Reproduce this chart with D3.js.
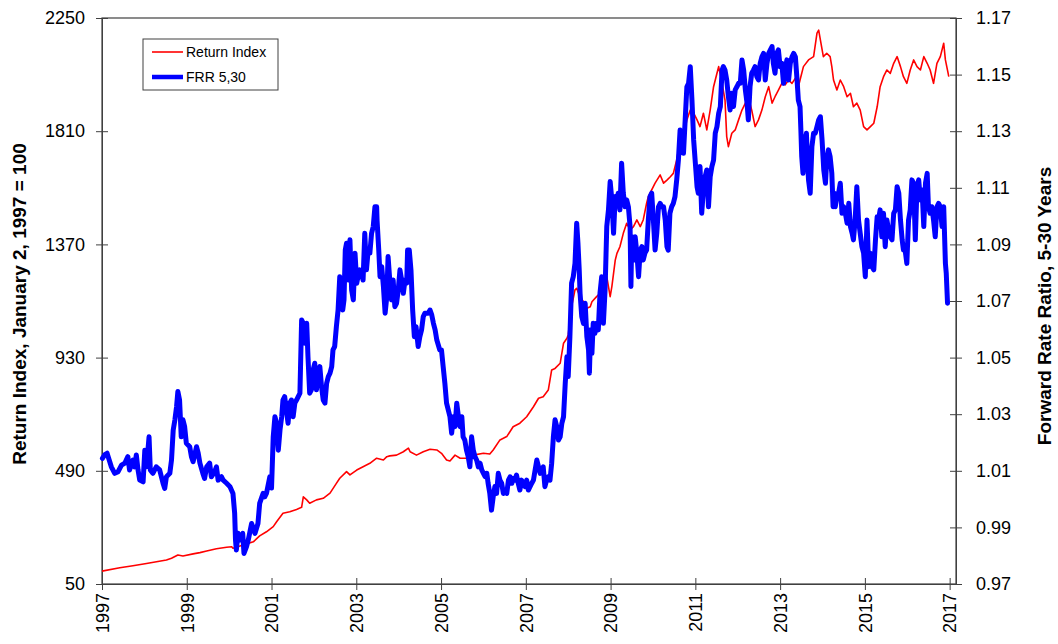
<!DOCTYPE html>
<html>
<head>
<meta charset="utf-8">
<script src="https://cdn.jsdelivr.net/npm/d3@7"></script>
<style>
  html, body { margin: 0; padding: 0; background: #fff; }
  svg { display: block; font-family: "Liberation Sans", Arial, sans-serif; }
</style>
</head>
<body>
<svg id="chart" width="1058" height="644"></svg>
<script>
// Return index, January 2, 1997 = 100 (decimal year, index level)
const returnIndex = [
  [1997.00,100],[1997.42,113],[1997.73,121],[1998.05,130],[1998.52,143],[1998.64,150],[1998.79,163],[1998.91,159],
  [1999.15,167],[1999.31,172],[1999.47,178],[1999.70,187],[1999.94,193],[2000.06,195],[2000.09,189],[2000.17,193],
  [2000.41,206],[2000.57,214],[2000.72,237],[2000.88,253],[2001.04,273],[2001.12,292],[2001.27,325],[2001.43,331],
  [2001.59,340],[2001.71,348],[2001.75,389],[2001.83,377],[2001.90,364],[2002.06,377],[2002.22,383],[2002.38,403],
  [2002.53,441],[2002.61,461],[2002.77,487],[2002.85,474],[2003.01,493],[2003.16,506],[2003.32,519],[2003.48,539],
  [2003.64,532],[2003.72,545],[2003.79,548],[2003.95,551],[2004.11,564],[2004.23,578],[2004.27,564],[2004.42,551],
  [2004.58,564],[2004.74,574],[2004.90,571],[2005.01,558],[2005.13,532],[2005.21,528],[2005.33,551],[2005.45,539],
  [2005.60,539],[2005.76,551],[2006.00,558],[2006.15,555],[2006.23,571],[2006.39,610],[2006.55,623],[2006.70,661],
  [2006.86,675],[2007.02,700],[2007.18,739],[2007.30,772],[2007.41,778],[2007.53,804],[2007.61,882],[2007.69,888],
  [2007.81,908],[2007.89,986],[2007.97,1005],[2008.00,1018],[2008.08,1128],[2008.16,1193],[2008.20,1199],[2008.28,1167],
  [2008.36,1147],[2008.44,1122],[2008.52,1128],[2008.56,1147],[2008.67,1167],[2008.75,1180],[2008.83,1219],[2008.91,1245],
  [2008.95,1206],[2008.99,1167],[2009.03,1206],[2009.11,1309],[2009.15,1335],[2009.22,1361],[2009.30,1413],[2009.38,1452],
  [2009.46,1426],[2009.54,1439],[2009.62,1465],[2009.70,1439],[2009.77,1465],[2009.85,1530],[2009.89,1555],[2009.97,1582],
  [2010.05,1608],[2010.17,1640],[2010.25,1608],[2010.33,1620],[2010.41,1633],[2010.48,1646],[2010.56,1698],[2010.64,1776],
  [2010.72,1789],[2010.80,1854],[2010.88,1892],[2010.96,1880],[2011.04,1854],[2011.11,1828],[2011.19,1880],[2011.27,1815],
  [2011.35,1892],[2011.43,1983],[2011.51,2035],[2011.55,2061],[2011.63,1996],[2011.70,1931],[2011.74,1789],[2011.78,1750],
  [2011.86,1802],[2011.94,1815],[2012.02,1854],[2012.10,1892],[2012.18,1919],[2012.25,1944],[2012.33,1892],[2012.41,1828],
  [2012.49,1854],[2012.57,1892],[2012.65,1944],[2012.73,1983],[2012.81,1919],[2012.88,1944],[2012.96,1970],[2013.04,1996],
  [2013.12,1990],[2013.20,2009],[2013.28,1996],[2013.36,2016],[2013.43,1983],[2013.47,2009],[2013.55,2061],[2013.67,2087],
  [2013.79,2100],[2013.87,2191],[2013.91,2203],[2013.95,2165],[2014.02,2100],[2014.10,2113],[2014.18,2100],[2014.22,2061],
  [2014.26,2009],[2014.34,1970],[2014.42,2009],[2014.50,1983],[2014.58,1944],[2014.66,1957],[2014.73,1905],[2014.81,1919],
  [2014.89,1892],[2014.97,1828],[2015.05,1815],[2015.13,1828],[2015.21,1841],[2015.29,1905],[2015.36,1983],[2015.44,2022],
  [2015.52,2048],[2015.60,2035],[2015.68,2074],[2015.76,2100],[2015.84,2061],[2015.91,2022],[2015.99,1996],[2016.07,2048],
  [2016.15,2087],[2016.23,2061],[2016.31,2048],[2016.39,2100],[2016.47,2074],[2016.54,2048],[2016.62,1996],[2016.70,2074],
  [2016.78,2100],[2016.86,2152],[2016.90,2087],[2016.98,2022]
];

// Forward rate ratio, 5-30 years (decimal year, ratio)
const forwardRateRatio = [
  [1997.01,1.0144],[1997.06,1.0156],[1997.12,1.0162],[1997.17,1.0138],[1997.22,1.0114],[1997.30,1.0091],[1997.38,1.0097],[1997.46,1.0120],
  [1997.54,1.0127],[1997.61,1.0150],[1997.65,1.0103],[1997.69,1.0120],[1997.73,1.0138],[1997.77,1.0114],[1997.81,1.0156],[1997.85,1.0103],
  [1997.89,1.0067],[1997.97,1.0061],[1998.01,1.0173],[1998.05,1.0114],[1998.11,1.0220],[1998.14,1.0103],[1998.20,1.0091],[1998.28,1.0114],
  [1998.36,1.0103],[1998.44,1.0056],[1998.48,1.0038],[1998.52,1.0079],[1998.60,1.0091],[1998.64,1.0138],[1998.68,1.0244],[1998.72,1.0280],
  [1998.76,1.0327],[1998.79,1.0380],[1998.83,1.0350],[1998.87,1.0220],[1998.91,1.0280],[1998.95,1.0256],[1998.99,1.0197],[1999.07,1.0185],
  [1999.11,1.0150],[1999.15,1.0132],[1999.23,1.0185],[1999.27,1.0162],[1999.31,1.0127],[1999.38,1.0091],[1999.42,1.0073],[1999.47,1.0114],
  [1999.54,1.0127],[1999.58,1.0079],[1999.66,1.0097],[1999.70,1.0114],[1999.74,1.0067],[1999.82,1.0079],[1999.86,1.0067],[1999.94,1.0056],
  [2000.02,1.0044],[2000.09,1.0020],[2000.13,0.9950],[2000.15,0.9855],[2000.17,0.9820],[2000.21,0.9879],[2000.25,0.9855],[2000.32,0.9879],
  [2000.35,0.9808],[2000.41,0.9832],[2000.45,0.9855],[2000.53,0.9914],[2000.61,0.9879],[2000.68,0.9914],[2000.72,0.9985],[2000.80,1.0020],
  [2000.84,1.0008],[2000.88,1.0020],[2000.96,1.0079],[2001.00,1.0039],[2001.04,1.0220],[2001.08,1.0291],[2001.12,1.0268],[2001.16,1.0173],
  [2001.20,1.0244],[2001.24,1.0291],[2001.27,1.0350],[2001.31,1.0362],[2001.35,1.0315],[2001.39,1.0268],[2001.43,1.0339],[2001.47,1.0350],
  [2001.51,1.0291],[2001.55,1.0339],[2001.59,1.0350],[2001.63,1.0362],[2001.67,1.0374],[2001.71,1.0633],[2001.75,1.0621],[2001.79,1.0551],
  [2001.83,1.0621],[2001.86,1.0503],[2001.90,1.0374],[2001.94,1.0386],[2001.98,1.0456],[2002.02,1.0480],[2002.06,1.0386],[2002.10,1.0456],
  [2002.14,1.0468],[2002.18,1.0397],[2002.22,1.0350],[2002.26,1.0339],[2002.30,1.0409],[2002.34,1.0433],[2002.38,1.0445],[2002.42,1.0468],
  [2002.45,1.0527],[2002.49,1.0539],[2002.53,1.0609],[2002.57,1.0668],[2002.61,1.0786],[2002.65,1.0751],[2002.68,1.0668],[2002.71,1.0704],
  [2002.74,1.0880],[2002.77,1.0904],[2002.81,1.0774],[2002.85,1.0916],[2002.89,1.0739],[2002.93,1.0704],[2002.97,1.0869],[2003.01,1.0763],
  [2003.04,1.0786],[2003.08,1.0810],[2003.12,1.0798],[2003.16,1.0774],[2003.20,1.0939],[2003.24,1.0810],[2003.28,1.0880],[2003.32,1.0869],
  [2003.36,1.0939],[2003.40,1.0963],[2003.44,1.1033],[2003.48,1.1033],[2003.49,1.0986],[2003.53,1.0880],[2003.56,1.0786],[2003.60,1.0821],
  [2003.64,1.0751],[2003.68,1.0657],[2003.72,1.0715],[2003.75,1.0857],[2003.79,1.0774],[2003.83,1.0704],[2003.87,1.0774],[2003.91,1.0680],
  [2003.95,1.0692],[2003.99,1.0739],[2004.03,1.0810],[2004.07,1.0774],[2004.11,1.0727],[2004.15,1.0774],[2004.19,1.0763],[2004.21,1.0880],
  [2004.25,1.0880],[2004.29,1.0810],[2004.33,1.0668],[2004.37,1.0574],[2004.41,1.0609],[2004.46,1.0539],[2004.50,1.0574],[2004.54,1.0598],
  [2004.58,1.0645],[2004.62,1.0657],[2004.66,1.0657],[2004.70,1.0657],[2004.74,1.0668],[2004.78,1.0651],[2004.82,1.0621],[2004.86,1.0598],
  [2004.90,1.0562],[2004.97,1.0527],[2005.01,1.0527],[2005.05,1.0468],[2005.09,1.0409],[2005.13,1.0339],[2005.17,1.0315],[2005.21,1.0291],
  [2005.25,1.0233],[2005.29,1.0291],[2005.33,1.0256],[2005.37,1.0339],[2005.41,1.0291],[2005.45,1.0256],[2005.49,1.0291],[2005.52,1.0220],
  [2005.56,1.0209],[2005.60,1.0173],[2005.64,1.0150],[2005.68,1.0114],[2005.72,1.0220],[2005.76,1.0173],[2005.80,1.0150],[2005.84,1.0138],
  [2005.88,1.0114],[2005.92,1.0127],[2005.96,1.0103],[2006.00,1.0091],[2006.04,1.0079],[2006.08,1.0091],[2006.11,1.0056],[2006.15,1.0020],
  [2006.19,0.9961],[2006.23,1.0008],[2006.27,1.0044],[2006.31,1.0020],[2006.35,1.0091],[2006.39,1.0067],[2006.43,1.0056],[2006.47,1.0020],
  [2006.51,1.0032],[2006.55,1.0020],[2006.59,1.0067],[2006.63,1.0079],[2006.67,1.0056],[2006.70,1.0073],[2006.74,1.0067],[2006.78,1.0085],
  [2006.82,1.0056],[2006.86,1.0032],[2006.90,1.0067],[2006.94,1.0056],[2006.98,1.0044],[2007.02,1.0067],[2007.06,1.0032],[2007.10,1.0044],
  [2007.14,1.0056],[2007.18,1.0067],[2007.22,1.0103],[2007.26,1.0138],[2007.30,1.0114],[2007.34,1.0091],[2007.38,1.0103],[2007.41,1.0114],
  [2007.45,1.0044],[2007.49,1.0067],[2007.53,1.0079],[2007.57,1.0067],[2007.61,1.0127],[2007.65,1.0220],[2007.69,1.0280],[2007.73,1.0256],
  [2007.77,1.0209],[2007.81,1.0220],[2007.85,1.0268],[2007.89,1.0291],[2007.93,1.0409],[2007.97,1.0503],[2008.00,1.0433],[2008.04,1.0574],
  [2008.08,1.0763],[2008.12,1.0786],[2008.16,1.0833],[2008.20,1.0975],[2008.23,1.0904],[2008.26,1.0810],[2008.28,1.0727],[2008.32,1.0645],
  [2008.36,1.0621],[2008.40,1.0692],[2008.44,1.0574],[2008.48,1.0527],[2008.50,1.0445],[2008.53,1.0598],[2008.56,1.0515],[2008.59,1.0621],
  [2008.63,1.0586],[2008.67,1.0621],[2008.71,1.0598],[2008.75,1.0727],[2008.79,1.0786],[2008.83,1.0621],[2008.87,1.0739],[2008.91,1.0963],
  [2008.95,1.1022],[2008.99,1.1122],[2009.03,1.1057],[2009.07,1.0939],[2009.11,1.1069],[2009.15,1.1057],[2009.18,1.1081],[2009.22,1.1022],
  [2009.26,1.1187],[2009.30,1.1081],[2009.34,1.1033],[2009.38,1.1057],[2009.42,1.1033],[2009.46,1.0963],[2009.48,1.0751],[2009.50,1.0927],
  [2009.54,1.0845],[2009.58,1.0927],[2009.62,1.0869],[2009.66,1.0786],[2009.70,1.0880],[2009.74,1.0892],[2009.77,1.0845],[2009.81,1.0869],
  [2009.85,1.0880],[2009.89,1.0986],[2009.93,1.1069],[2009.97,1.1081],[2010.01,1.0986],[2010.05,1.0880],[2010.09,1.0939],[2010.13,1.1033],
  [2010.17,1.1045],[2010.21,1.1033],[2010.25,1.1033],[2010.29,1.0986],[2010.33,1.0892],[2010.36,1.0880],[2010.40,1.1010],[2010.44,1.1033],
  [2010.48,1.1045],[2010.52,1.1069],[2010.56,1.1128],[2010.60,1.1198],[2010.64,1.1304],[2010.68,1.1293],[2010.72,1.1222],[2010.76,1.1340],
  [2010.80,1.1457],[2010.84,1.1469],[2010.88,1.1528],[2010.92,1.1410],[2010.96,1.1269],[2011.00,1.1187],[2011.04,1.1104],[2011.07,1.1081],
  [2011.11,1.1175],[2011.15,1.1010],[2011.19,1.1092],[2011.23,1.1139],[2011.27,1.1163],[2011.31,1.1033],[2011.35,1.1139],[2011.39,1.1175],
  [2011.43,1.1198],[2011.47,1.1293],[2011.51,1.1316],[2011.55,1.1363],[2011.59,1.1387],[2011.63,1.1516],[2011.66,1.1528],[2011.70,1.1516],
  [2011.74,1.1481],[2011.78,1.1422],[2011.82,1.1375],[2011.86,1.1434],[2011.90,1.1387],[2011.94,1.1446],[2011.98,1.1457],[2012.02,1.1469],
  [2012.06,1.1469],[2012.10,1.1552],[2012.14,1.1516],[2012.18,1.1446],[2012.22,1.1399],[2012.25,1.1340],[2012.29,1.1457],[2012.33,1.1505],
  [2012.37,1.1516],[2012.41,1.1528],[2012.45,1.1493],[2012.49,1.1481],[2012.53,1.1540],[2012.57,1.1563],[2012.61,1.1575],[2012.65,1.1481],
  [2012.69,1.1540],[2012.73,1.1575],[2012.77,1.1587],[2012.81,1.1599],[2012.84,1.1540],[2012.88,1.1505],[2012.92,1.1575],[2012.96,1.1587],
  [2013.00,1.1528],[2013.04,1.1540],[2013.08,1.1469],[2013.12,1.1516],[2013.16,1.1552],[2013.20,1.1481],[2013.24,1.1540],[2013.28,1.1563],
  [2013.32,1.1575],[2013.36,1.1563],[2013.40,1.1481],[2013.43,1.1410],[2013.47,1.1387],[2013.49,1.1304],[2013.51,1.1210],[2013.54,1.1151],
  [2013.57,1.1281],[2013.59,1.1245],[2013.62,1.1293],[2013.65,1.1187],[2013.67,1.1128],[2013.71,1.1081],[2013.75,1.1245],[2013.79,1.1293],
  [2013.83,1.1293],[2013.87,1.1316],[2013.91,1.1340],[2013.95,1.1351],[2013.99,1.1269],[2014.03,1.1163],[2014.07,1.1116],[2014.10,1.1198],
  [2014.14,1.1234],[2014.18,1.1210],[2014.22,1.1151],[2014.25,1.1033],[2014.28,1.1081],[2014.30,1.1033],[2014.34,1.1069],[2014.38,1.1081],
  [2014.42,1.1116],[2014.46,1.1010],[2014.50,1.1033],[2014.54,1.1010],[2014.58,1.0975],[2014.62,1.1045],[2014.66,1.0963],[2014.70,1.0939],
  [2014.73,1.0916],[2014.77,1.0986],[2014.81,1.1104],[2014.85,1.0986],[2014.89,1.0939],[2014.93,1.0892],[2014.97,1.0869],[2015.01,1.0786],
  [2015.05,1.0986],[2015.09,1.0821],[2015.13,1.0869],[2015.17,1.0821],[2015.21,1.0810],[2015.25,1.0916],[2015.29,1.0998],[2015.32,1.0986],
  [2015.36,1.1022],[2015.40,1.0927],[2015.44,1.1010],[2015.48,1.0892],[2015.52,1.0986],[2015.56,1.0951],[2015.60,1.0927],[2015.64,1.0916],
  [2015.68,1.1010],[2015.72,1.1022],[2015.76,1.1104],[2015.80,1.1081],[2015.84,1.0986],[2015.88,1.0916],[2015.91,1.0880],[2015.95,1.0880],
  [2015.99,1.0833],[2016.03,1.0986],[2016.07,1.1022],[2016.11,1.1128],[2016.15,1.1116],[2016.19,1.0916],[2016.23,1.1104],[2016.27,1.1128],
  [2016.31,1.1057],[2016.35,1.1092],[2016.39,1.0963],[2016.43,1.1116],[2016.47,1.1151],[2016.50,1.1033],[2016.54,1.1010],[2016.58,1.1033],
  [2016.62,1.0986],[2016.66,1.0927],[2016.70,1.1033],[2016.74,1.1045],[2016.78,1.1033],[2016.82,1.0963],[2016.86,1.1033],[2016.90,1.0833],
  [2016.92,1.0798],[2016.95,1.0692]
];

const yearTicks = [1997, 1999, 2001, 2003, 2005, 2007, 2009, 2011, 2013, 2015, 2017];
const indexTicks = [50, 490, 930, 1370, 1810, 2250];
const ratioTicks = [0.97, 0.99, 1.01, 1.03, 1.05, 1.07, 1.09, 1.11, 1.13, 1.15, 1.17];

const seriesNames = ["Return Index", "FRR 5,30"];
const seriesColors = ["#ff0000", "#0000ff"];
const seriesWidths = [1.6, 5];

const leftTitle = "Return Index, January 2, 1997 = 100";
const rightTitle = "Forward Rate Ratio, 5-30 Years";

const plot = { left: 102, right: 956, top: 18, bottom: 584 };
const svg = d3.select("#chart");
const axisColor = "#404040";

const x = d3.scaleLinear().domain([1997, 2017.15]).range([plot.left, plot.right]);
const yLeft = d3.scaleLinear().domain([50, 2250]).range([plot.bottom, plot.top]);
const yRight = d3.scaleLinear().domain([0.97, 1.17]).range([plot.bottom, plot.top]);

// plot frame
svg.append("rect")
  .attr("x", plot.left).attr("y", plot.top)
  .attr("width", plot.right - plot.left).attr("height", plot.bottom - plot.top)
  .attr("fill", "none").attr("stroke", axisColor).attr("stroke-width", 1.2);

const tickFont = 18;

// left axis
const gL = svg.append("g").attr("transform", `translate(${plot.left},0)`)
  .call(d3.axisLeft(yLeft).tickValues(indexTicks).tickFormat(d3.format("d")).tickSize(6).tickSizeOuter(0).tickPadding(11));
gL.select(".domain").attr("stroke", axisColor);
gL.selectAll(".tick line").attr("stroke", axisColor).attr("x2", -6).attr("x1", 6);
gL.selectAll("text").attr("font-size", tickFont).attr("fill", "#000").attr("font-family", "Liberation Sans, Arial, sans-serif");

// right axis
const gR = svg.append("g").attr("transform", `translate(${plot.right},0)`)
  .call(d3.axisRight(yRight).tickValues(ratioTicks).tickFormat(d3.format(".2f")).tickSize(6).tickSizeOuter(0).tickPadding(14));
gR.select(".domain").attr("stroke", axisColor);
gR.selectAll(".tick line").attr("stroke", axisColor).attr("x1", -6).attr("x2", 6);
gR.selectAll("text").attr("font-size", tickFont).attr("fill", "#000").attr("font-family", "Liberation Sans, Arial, sans-serif");

// bottom axis with vertical year labels
const gB = svg.append("g").attr("transform", `translate(0,${plot.bottom})`)
  .call(d3.axisBottom(x).tickValues(yearTicks).tickFormat(d3.format("d")).tickSize(6).tickSizeOuter(0));
gB.select(".domain").attr("stroke", axisColor);
gB.selectAll(".tick line").attr("stroke", axisColor).attr("y1", -6).attr("y2", 6);
gB.selectAll("text")
  .attr("font-size", tickFont).attr("fill", "#000").attr("font-family", "Liberation Sans, Arial, sans-serif")
  .attr("text-anchor", "end")
  .attr("transform", "translate(0,9) rotate(-90)")
  .attr("x", 0).attr("y", 0).attr("dy", "0.35em");

// axis titles
svg.append("text")
  .attr("transform", "translate(26,304) rotate(-90)")
  .attr("text-anchor", "middle")
  .attr("font-size", 19).attr("font-weight", "bold")
  .text(leftTitle);

svg.append("text")
  .attr("transform", "translate(1051,306) rotate(-90)")
  .attr("text-anchor", "middle")
  .attr("font-size", 19).attr("font-weight", "bold")
  .text(rightTitle);

// series lines
const lineIndex = d3.line().x(d => x(d[0])).y(d => yLeft(d[1]));
const lineRatio = d3.line().x(d => x(d[0])).y(d => yRight(d[1]));

svg.append("path").datum(returnIndex)
  .attr("d", lineIndex).attr("fill", "none")
  .attr("stroke", seriesColors[0]).attr("stroke-width", seriesWidths[0])
  .attr("stroke-linejoin", "round");

svg.append("path").datum(forwardRateRatio)
  .attr("d", lineRatio).attr("fill", "none")
  .attr("stroke", seriesColors[1]).attr("stroke-width", seriesWidths[1])
  .attr("stroke-linejoin", "round").attr("stroke-linecap", "round");

// legend
const legend = svg.append("g").attr("transform", "translate(143,39)");
legend.append("rect").attr("width", 135).attr("height", 51)
  .attr("fill", "#fff").attr("stroke", axisColor).attr("stroke-width", 1);
seriesNames.forEach((name, i) => {
  const yy = 13 + i * 25;
  legend.append("line").attr("x1", 9).attr("x2", 40).attr("y1", yy).attr("y2", yy)
    .attr("stroke", seriesColors[i]).attr("stroke-width", i === 0 ? 1.6 : 4.5);
  legend.append("text").attr("x", 43).attr("y", yy).attr("dy", "0.35em")
    .attr("font-size", 14).text(name);
});
</script>
</body>
</html>
